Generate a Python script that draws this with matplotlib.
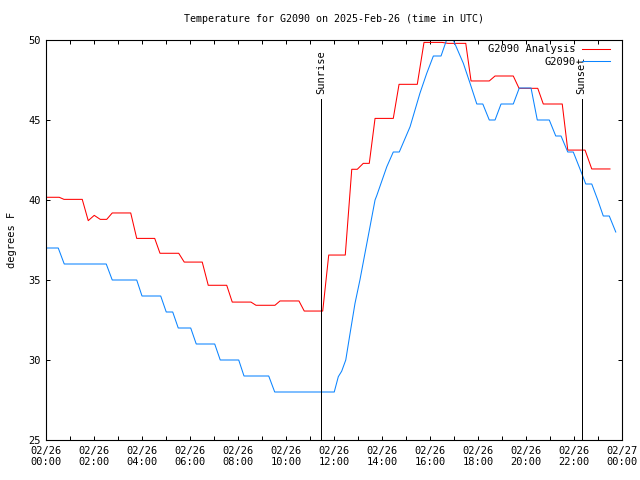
import matplotlib
matplotlib.use('Agg')
import matplotlib.pyplot as plt

# 時刻 (UTC, 時間) と気温 (F)
analysis_hours = [0, 0.55, 0.75, 1.51, 1.76, 2.01, 2.26, 2.53, 2.76, 3.53, 3.78,
                  4.53, 4.75, 5.53, 5.76, 6.51, 6.76, 7.53, 7.76, 8.54, 8.75,
                  9.54, 9.75, 10.54, 10.76, 11.53, 11.78, 12.47, 12.74, 12.97,
                  13.22, 13.47, 13.71, 14.47, 14.71, 15.47, 15.75, 16.5, 16.75,
                  17.49, 17.71, 18.47, 18.71, 19.47, 19.71, 20.49, 20.72, 21.51,
                  21.74, 22.46, 22.74, 23.5]
analysis_temp = [40.17, 40.17, 40.04, 40.04, 38.71, 39.04, 38.79, 38.79, 39.19,
                 39.19, 37.6, 37.6, 36.67, 36.67, 36.12, 36.12, 34.67, 34.67,
                 33.62, 33.62, 33.42, 33.42, 33.69, 33.69, 33.06, 33.06, 36.56,
                 36.56, 41.92, 41.92, 42.29, 42.29, 45.1, 45.1, 47.23, 47.23,
                 49.85, 49.85, 49.79, 49.79, 47.44, 47.44, 47.75, 47.75, 46.98,
                 46.98, 46.0, 46.0, 43.12, 43.12, 41.94, 41.94]

obs_hours = [0, 0.51, 0.76, 2.51, 2.76, 3.78, 4.0, 4.78, 5.01, 5.28, 5.51, 6.03,
             6.26, 7.03, 7.26, 8.03, 8.25, 9.28, 9.53, 12.01, 12.18, 12.32,
             12.49, 12.67, 12.875, 13.08, 13.29, 13.5, 13.71, 13.78, 14.2,
             14.47, 14.72, 15.17, 15.58, 15.86, 16.14, 16.46, 16.69, 16.97,
             17.39, 17.67, 17.95, 18.2, 18.47, 18.71, 18.96, 19.47, 19.72,
             20.21, 20.47, 20.97, 21.24, 21.46, 21.74, 21.97, 22.32, 22.49,
             22.74, 22.99, 23.22, 23.47, 23.74]
obs_temp = [37, 37, 36, 36, 35, 35, 34, 34, 33, 33, 32, 32, 31, 31, 30, 30, 29,
            29, 28, 28, 28.96, 29.3, 30.0, 31.67, 33.54, 35.0, 36.67, 38.33,
            40.0, 40.27, 42.08, 43.0, 43.0, 44.58, 46.67, 47.9, 49.0, 49.0,
            50.0, 50.0, 48.54, 47.29, 46.0, 46.0, 45.0, 45.0, 46.0, 46.0, 47.0,
            47.0, 45.0, 45.0, 44.0, 44.0, 43.0, 43.0, 41.67, 41.0, 41.0, 40.0,
            39.0, 39.0, 38.0]

sunrise = 11.45
sunset = 22.32
sun_line_top = 46.3

tick_hours = list(range(0, 25))
tick_labels = []
for h in tick_hours:
    if h % 2 == 1:
        tick_labels.append('')
    elif h == 24:
        tick_labels.append('02/27\n00:00')
    else:
        tick_labels.append('02/26\n%02d:00' % h)

y_ticks = [25, 30, 35, 40, 45, 50]

plt.rcParams['font.family'] = ['DejaVu Sans Mono']
plt.rcParams['font.size'] = 7.5

fig = plt.figure(figsize=(6.4, 4.8), dpi=100)
ax = fig.add_axes([46 / 640, 40 / 480, 576 / 640, 400 / 480])

lw = 0.72
ax.plot(analysis_hours, analysis_temp, color='#ff0000', lw=0.75,
        label='G2090 Analysis')
ax.plot(obs_hours, obs_temp, color='#0a84ff', lw=0.75, label='G2090')

# 日の出・日の入り
for x, name in [(sunrise, 'Sunrise'), (sunset, 'Sunset')]:
    ax.plot([x, x], [25, sun_line_top], color='black', lw=lw,
            antialiased=False)
    ax.text(x, sun_line_top + 0.35, name, rotation=90, ha='center',
            va='bottom')

ax.set_xlim(0, 24)
ax.set_ylim(25, 50)
ax.set_xticks(tick_hours)
ax.set_xticklabels(tick_labels)
ax.set_yticks(y_ticks)
ax.tick_params(direction='in', length=3, width=0.72, top=True, right=True,
               pad=4)
for s in ax.spines.values():
    s.set_linewidth(0.8)

ax.set_ylabel('degrees F')
ax.yaxis.set_label_coords(-0.0505, 0.5)
ax.set_title('Temperature for G2090 on 2025-Feb-26 (time in UTC)',
             fontsize=7.2, pad=13)

leg = ax.legend(loc='upper right', bbox_to_anchor=(0.986, 1.0),
                frameon=False, markerfirst=False, handlelength=2.7,
                handletextpad=0.6, borderaxespad=0, labelspacing=0.25)
for t in leg.get_texts():
    t.set_ha('right')

fig.savefig('out.png', dpi=100)
